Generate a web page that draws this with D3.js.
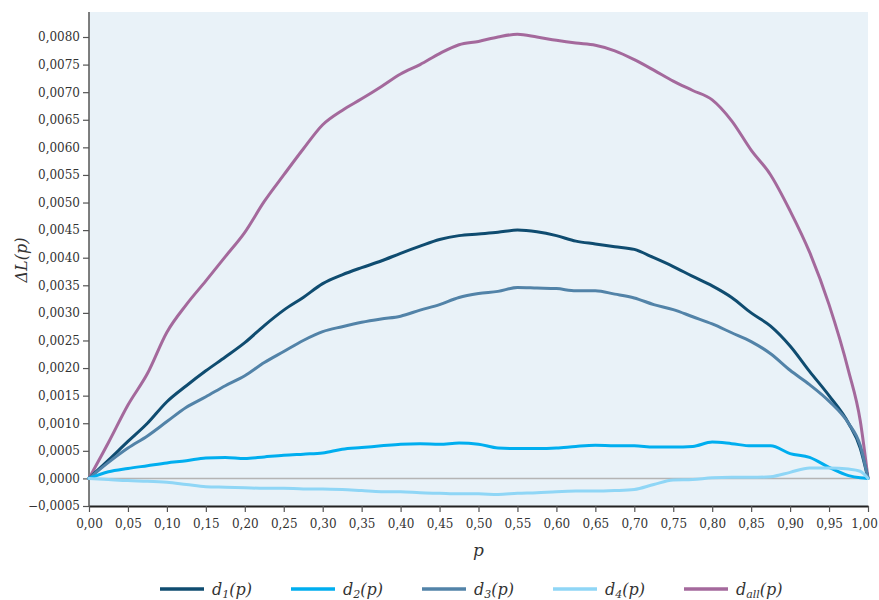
<!DOCTYPE html>
<html><head><meta charset="utf-8">
<script src="https://cdn.jsdelivr.net/npm/d3@7"></script>
<style>body{margin:0;background:#fff}svg{display:block}</style>
</head><body>
<svg id="c" width="879" height="600"></svg>
<script>
const pValues = [0,0.025,0.05,0.075,0.1,0.125,0.15,0.175,0.2,0.225,0.25,0.275,0.3,0.325,0.35,0.375,0.4,0.425,0.45,0.475,0.5,0.525,0.55,0.575,0.6,0.625,0.65,0.675,0.7,0.725,0.75,0.775,0.8,0.825,0.85,0.875,0.9,0.925,0.95,0.975,0.99,1.0];
// values in units of 1e-4
const d1Values = [0,3.3,6.7,10.0,13.9,16.8,19.5,22.0,24.6,27.7,30.5,32.8,35.3,36.9,38.2,39.4,40.8,42.1,43.3,44.0,44.3,44.6,45.0,44.7,44.0,43.0,42.5,42.0,41.5,40.0,38.4,36.6,34.9,32.8,30.0,27.6,24.0,19.4,15.0,10.0,5.5,0];
const d2Values = [0,1.2,1.8,2.3,2.8,3.2,3.7,3.8,3.6,3.9,4.2,4.4,4.6,5.3,5.6,5.9,6.2,6.3,6.2,6.4,6.2,5.5,5.4,5.4,5.5,5.8,6.0,5.9,5.9,5.7,5.7,5.8,6.6,6.3,5.9,5.9,4.5,3.8,2.0,0.5,0.1,0];
const d3Values = [0,2.9,5.5,7.7,10.3,12.9,14.8,16.8,18.6,21.0,23.0,25.0,26.6,27.5,28.3,28.9,29.4,30.5,31.5,32.8,33.5,33.9,34.6,34.5,34.4,34.0,34.0,33.4,32.7,31.5,30.6,29.3,28.0,26.4,24.8,22.6,19.6,17.0,14.0,10.0,6.0,0];
const d4Values = [0,-0.2,-0.4,-0.5,-0.7,-1.1,-1.5,-1.6,-1.7,-1.8,-1.8,-1.9,-1.9,-2.0,-2.2,-2.4,-2.4,-2.6,-2.7,-2.8,-2.8,-2.9,-2.7,-2.6,-2.4,-2.3,-2.3,-2.2,-2.0,-1.1,-0.3,-0.2,0.1,0.2,0.2,0.3,1.1,1.9,1.9,1.7,1.3,0];
const dallValues = [0,6.5,13.3,19.0,26.5,31.5,35.8,40.2,44.6,50.2,55.0,59.7,64.1,66.7,68.8,71.0,73.3,75.0,77.0,78.6,79.2,80.0,80.5,80.0,79.4,78.9,78.5,77.5,75.9,74.0,72.0,70.3,68.6,64.8,59.5,55.0,48.5,41.0,31.5,19.5,10.5,0];
const seriesSubs = ["1","2","3","4","all"];
const seriesColors = ["#0f4c70","#00aeef","#5283a8","#8fd6f6","#a4699c"];
const seriesData = [d1Values,d2Values,d3Values,d4Values,dallValues];
const xTicks = [0,0.05,0.1,0.15,0.2,0.25,0.3,0.35,0.4,0.45,0.5,0.55,0.6,0.65,0.7,0.75,0.8,0.85,0.9,0.95,1.0];
const yTicks = [-0.0005,0,0.0005,0.001,0.0015,0.002,0.0025,0.003,0.0035,0.004,0.0045,0.005,0.0055,0.006,0.0065,0.007,0.0075,0.008];

const svg = d3.select("#c");
const L=89, R=868, T=12, B=506;
const x = d3.scaleLinear().domain([0,1]).range([L,R]);
const y = d3.scaleLinear().domain([-0.0005,0.0080]).range([B,37]);
const fmtX = v=>d3.format(".2f")(v).replace(".",",");
const fmtY = v=>d3.format(".4f")(v).replace(".",",");
const font = "'DejaVu Serif', serif";

svg.append("rect").attr("x",L).attr("y",T).attr("width",R-L).attr("height",B-T).attr("fill","#e9f2f8");

svg.append("line").attr("x1",L).attr("x2",R).attr("y1",y(0)).attr("y2",y(0)).attr("stroke","#b4b4b4").attr("stroke-width",1.5);

const ya = svg.append("g").attr("transform",`translate(${L},0)`)
  .call(d3.axisLeft(y).tickValues(yTicks).tickFormat(fmtY).tickSize(6).tickSizeOuter(0));
ya.select(".domain").attr("stroke","#555").attr("stroke-width",1.5).attr("d",`M0,${T}V${B}`);
ya.selectAll(".tick line").attr("stroke","#555").attr("stroke-width",1.2);
ya.selectAll(".tick text").attr("font-family",font).attr("font-size",12).attr("fill","#333").attr("x",-9);

const xa = svg.append("g").attr("transform",`translate(0,${B})`)
  .call(d3.axisBottom(x).tickValues(xTicks).tickFormat(fmtX).tickSize(6).tickSizeOuter(0));
xa.select(".domain").attr("stroke","#222").attr("stroke-width",2);
xa.selectAll(".tick line").attr("stroke","#555").attr("stroke-width",1.2);
xa.selectAll(".tick text").attr("font-family",font).attr("font-size",12).attr("fill","#333").attr("dy","1.05em")
  .attr("dx",(d)=>d===1?-4:0);

const line = d3.line().x((d,i)=>x(pValues[i])).y(d=>y(d*1e-4)).curve(d3.curveMonotoneX);
const order = [4,0,2,1,3];
order.forEach(k=>{
  svg.append("path").datum(seriesData[k]).attr("d",line)
    .attr("fill","none").attr("stroke",seriesColors[k]).attr("stroke-width",3)
    .attr("stroke-linejoin","round").attr("stroke-linecap","round");
});

svg.append("text").attr("transform",`translate(27,260) rotate(-90)`)
  .attr("text-anchor","middle").attr("font-family",font).attr("font-style","italic").attr("font-size",16).attr("fill","#333")
  .text("ΔL(p)");
svg.append("text").attr("x",(L+R)/2).attr("y",556).attr("text-anchor","middle")
  .attr("font-family",font).attr("font-style","italic").attr("font-size",17).attr("fill","#333").text("p");

const lg = svg.append("g");
seriesSubs.forEach((s,i)=>{
  const gx = 160 + i*131;
  const g = lg.append("g").attr("transform",`translate(${gx},589)`);
  g.append("line").attr("x1",0).attr("x2",44).attr("y1",0).attr("y2",0).attr("stroke",seriesColors[i]).attr("stroke-width",3.5);
  const t = g.append("text").attr("x",52).attr("y",6).attr("font-family",font).attr("font-style","italic").attr("font-size",16).attr("fill","#333");
  t.append("tspan").text("d");
  t.append("tspan").attr("font-size",11).attr("dy",3).text(s);
  t.append("tspan").attr("dy",-3).text("(p)");
});
</script>
</body></html>
